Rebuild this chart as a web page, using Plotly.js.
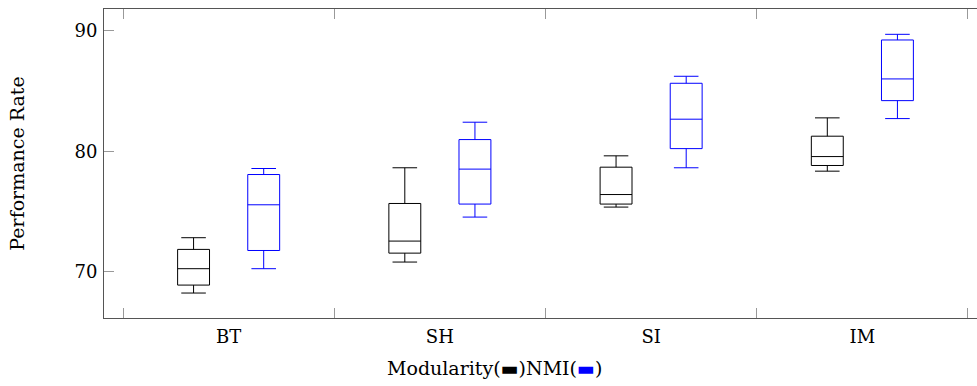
<!DOCTYPE html>
<html>
<head>
<meta charset="utf-8">
<script src="https://cdn.plot.ly/plotly-3.0.1.min.js"></script>
<style>
html, body { margin: 0; padding: 0; overflow: hidden; background: #fff; }
#chart { width: 990px; height: 386px; }
</style>
</head>
<body>
<div id="chart"></div>
<script>
// Data
var categories = ['BT', 'SH', 'SI', 'IM'];

var modLow  = [68.24, 70.81, 75.37, 78.35];
var modQ1   = [68.90, 71.55, 75.62, 78.82];
var modMed  = [70.26, 72.55, 76.41, 79.56];
var modQ3   = [71.86, 75.67, 78.68, 81.25];
var modHigh = [72.83, 78.63, 79.62, 82.77];

var nmiLow  = [70.26, 74.54, 78.63, 82.71];
var nmiQ1   = [71.77, 75.62, 80.22, 84.20];
var nmiMed  = [75.56, 78.52, 82.66, 86.00];
var nmiQ3   = [78.07, 80.97, 85.64, 89.23];
var nmiHigh = [78.57, 82.41, 86.22, 89.70];

var yTickVals = [70, 80, 90];

var xTitle = 'Modularity(<span style="color:#000000">▬</span>)NMI(<span style="color:#0000ff">▬</span>)';
var yTitle = 'Performance Rate';

var FONT = 'DejaVu Serif, Liberation Serif, serif';

function boxTrace(name, color, low, q1, med, q3, high) {
  return {
    type: 'box',
    name: name,
    x: categories,
    lowerfence: low,
    q1: q1,
    median: med,
    q3: q3,
    upperfence: high,
    boxpoints: false,
    whiskerwidth: 0.77,
    fillcolor: 'rgba(0,0,0,0)',
    line: { color: color, width: 1 },
    hoverinfo: 'skip',
    showlegend: false
  };
}

var data = [
  boxTrace('Modularity', '#000000', modLow, modQ1, modMed, modQ3, modHigh),
  boxTrace('NMI', '#0000ff', nmiLow, nmiQ1, nmiMed, nmiQ3, nmiHigh)
];

var layout = {
  width: 990,
  height: 386,
  margin: { l: 104, r: 3, t: 9, b: 68 },
  paper_bgcolor: '#ffffff',
  plot_bgcolor: '#ffffff',
  font: { family: FONT, size: 18, color: '#000' },
  boxmode: 'group',
  boxgap: 0.336,
  boxgroupgap: 0.545,
  showlegend: false,
  xaxis: {
    type: 'category',
    categoryorder: 'array',
    categoryarray: categories,
    range: [-0.59, 3.59],
    showgrid: false,
    zeroline: false,
    showline: true,
    linecolor: '#555',
    linewidth: 1,
    mirror: 'ticks',
    ticks: 'inside',
    tickson: 'boundaries',
    ticklen: 10,
    tickcolor: '#999',
    tickwidth: 1,
    ticklabelstandoff: 2,
    tickfont: { family: FONT, size: 18, color: '#000' }
  },
  yaxis: {
    range: [66.17, 91.8],
    tickvals: yTickVals,
    ticktext: yTickVals.map(String),
    showgrid: false,
    zeroline: false,
    showline: true,
    linecolor: '#555',
    linewidth: 1,
    mirror: 'ticks',
    ticks: 'inside',
    ticklen: 10,
    tickcolor: '#999',
    tickwidth: 1,
    ticklabelstandoff: 2,
    tickfont: { family: FONT, size: 18, color: '#000' },
    title: {
      text: yTitle,
      font: { family: FONT, size: 19, color: '#000' },
      standoff: 44
    }
  },
  annotations: [{
    text: xTitle,
    xref: 'paper', yref: 'paper',
    x: 0.4422, y: -0.162,
    xanchor: 'center', yanchor: 'middle',
    showarrow: false,
    font: { family: FONT, size: 19, color: '#000' }
  }]
};

Plotly.newPlot('chart', data, layout, { displayModeBar: false, staticPlot: true });
</script>
</body>
</html>
